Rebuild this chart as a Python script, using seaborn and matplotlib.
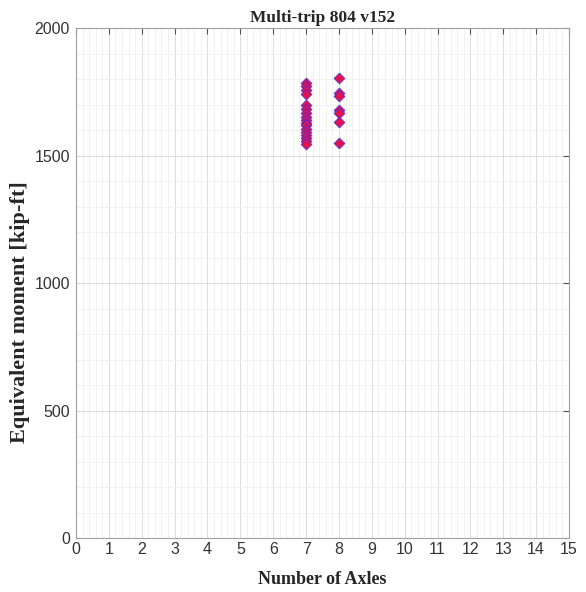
import matplotlib
matplotlib.use('Agg')
import matplotlib.pyplot as plt
import seaborn as sns
import pandas as pd
from matplotlib.ticker import MultipleLocator

# Data
axles_7 = [7] * 17
moment_7 = [1785, 1772, 1755, 1742, 1700, 1682, 1665, 1652, 1640, 1628,
            1618, 1605, 1592, 1580, 1568, 1556, 1546]
axles_8 = [8] * 7
moment_8 = [1805, 1745, 1735, 1680, 1666, 1632, 1548]

df = pd.DataFrame({'axles': axles_7 + axles_8, 'moment': moment_7 + moment_8})

sns.set_style('white')
fig = plt.figure(figsize=(5.86, 5.92), dpi=100)
ax = fig.add_axes([0.1297, 0.0912, 0.8413, 0.8615])

sns.scatterplot(data=df, x='axles', y='moment', ax=ax, marker='D', s=30,
                color='#e3124a', edgecolor='#5a2ad8', linewidth=0.6, zorder=3)

ax.set_xlim(0, 15)
ax.set_ylim(0, 2000)
ax.xaxis.set_major_locator(MultipleLocator(1))
ax.xaxis.set_minor_locator(MultipleLocator(0.2))
ax.yaxis.set_major_locator(MultipleLocator(500))
ax.yaxis.set_minor_locator(MultipleLocator(100))
ax.grid(which='major', color='#dcdcdc', linewidth=0.7)
ax.grid(which='minor', color='#efefef', linewidth=0.6)
ax.set_axisbelow(True)
ax.tick_params(which='both', direction='in', colors='#505050', labelsize=11.5,
               labelcolor='#333333', top=True, right=True)
ax.tick_params(which='minor', length=0)
ax.tick_params(which='major', length=4)
ax.tick_params(axis='y', pad=4.5)
ax.tick_params(axis='x', pad=3)
for lab in ax.get_xticklabels() + ax.get_yticklabels():
    lab.set_fontfamily('Liberation Sans')
for sp in ax.spines.values():
    sp.set_color('#a0a0a0')
    sp.set_linewidth(0.8)

ax.set_title('Multi-trip 804 v152', fontfamily='Liberation Serif',
             fontweight='bold', fontsize=12.5, pad=4)
ax.set_xlabel('Number of Axles', fontfamily='Liberation Serif',
              fontweight='bold', fontsize=13, labelpad=10)
ax.set_ylabel('Equivalent moment [kip-ft]', fontfamily='Liberation Serif',
              fontweight='bold', fontsize=16)
ax.yaxis.set_label_coords(-0.093, 0.443)

fig.savefig('out.png', dpi=100)
